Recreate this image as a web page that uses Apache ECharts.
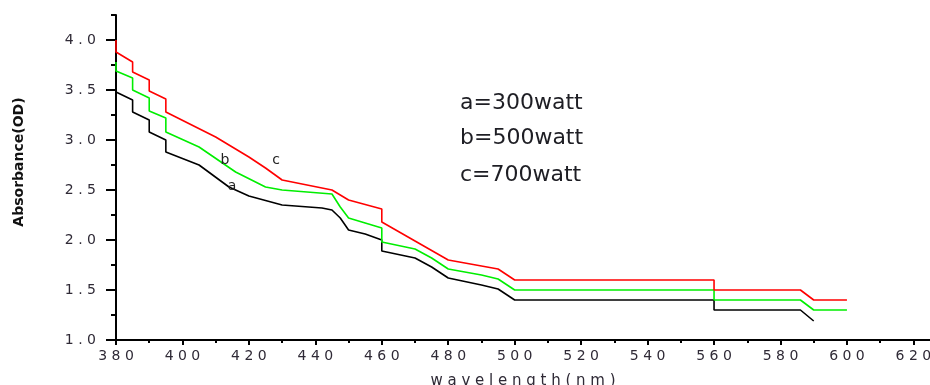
<!DOCTYPE html>
<html>
<head>
<meta charset="utf-8">
<script src="https://cdn.jsdelivr.net/npm/echarts@6/dist/echarts.min.js"></script>
<style>
  html, body { margin: 0; padding: 0; background: #fff; }
  #chart { width: 930px; height: 385px; }
</style>
</head>
<body>
<div id="chart"></div>
<script>
// wavelength (nm) / absorbance (OD)
const wlA = [380, 385, 385, 390, 390, 395, 395, 405, 414, 420, 430, 442, 445, 447.5, 450, 455, 460, 460, 470, 475, 480, 490, 495, 500, 560, 560, 586, 590];
const odA = [3.48, 3.40, 3.28, 3.20, 3.08, 3.00, 2.88, 2.75, 2.53, 2.44, 2.35, 2.32, 2.30, 2.22, 2.10, 2.06, 2.00, 1.89, 1.82, 1.73, 1.62, 1.55, 1.51, 1.40, 1.40, 1.30, 1.30, 1.19];

const wlB = [380, 380, 385, 385, 390, 390, 395, 395, 405, 416, 425, 430, 445, 447.5, 450, 455, 460, 460, 470, 475, 480, 490, 495, 500, 560, 560, 586, 590, 600];
const odB = [3.78, 3.69, 3.62, 3.50, 3.42, 3.29, 3.22, 3.08, 2.93, 2.68, 2.53, 2.50, 2.46, 2.33, 2.22, 2.17, 2.12, 1.98, 1.91, 1.82, 1.71, 1.65, 1.61, 1.50, 1.50, 1.40, 1.40, 1.30, 1.30];

const wlC = [380, 380, 385, 385, 390, 390, 395, 395, 410, 420, 425, 430, 437.5, 445, 450, 460, 460, 470, 480, 490, 495, 500, 560, 560, 586, 590, 600];
const odC = [4.00, 3.88, 3.78, 3.68, 3.60, 3.49, 3.41, 3.28, 3.03, 2.83, 2.72, 2.60, 2.55, 2.50, 2.40, 2.31, 2.18, 1.99, 1.80, 1.74, 1.71, 1.60, 1.60, 1.50, 1.50, 1.40, 1.40];

const xMajor = [380, 400, 420, 440, 460, 480, 500, 520, 540, 560, 580, 600, 620];
const xMinor = [390, 410, 430, 450, 470, 490, 510, 530, 550, 570, 590, 610];
const yMajor = [1.0, 1.5, 2.0, 2.5, 3.0, 3.5, 4.0];
const yMinor = [1.25, 1.75, 2.25, 2.75, 3.25, 3.75, 4.25];

const curveTags = [
  { name: "a", wl: 414.9, od: 2.54 },
  { name: "b", wl: 412.8, od: 2.80 },
  { name: "c", wl: 428.2, od: 2.80 },
];
const powerNotes = ["a=300watt", "b=500watt", "c=700watt"];

const pairs = (xs, ys) => xs.map((x, i) => [x, ys[i]]);
const spaced = (s, sep) => String(s).split("").join(sep);

const chart = echarts.init(document.getElementById("chart"));

const tickFont = { fontFamily: "DejaVu Sans", fontSize: 14, color: "#2f2a36" };

const tagPoint = (tag) => ({
  coord: [tag.wl, tag.od],
  symbol: "circle",
  symbolSize: 1,
  itemStyle: { color: "rgba(0,0,0,0)" },
  label: {
    show: true,
    position: "inside",
    formatter: tag.name,
    fontFamily: "DejaVu Sans",
    fontSize: 14,
    color: "#222",
  },
});

const lineSeries = (name, xs, ys, color, tag) => ({
  name: name,
  type: "line",
  xAxisIndex: 0,
  yAxisIndex: 0,
  data: pairs(xs, ys),
  showSymbol: false,
  symbol: "none",
  animation: false,
  lineStyle: { color: color, width: 1.6 },
  markPoint: { silent: true, animation: false, data: [tagPoint(tag)] },
});

const option = {
  animation: false,
  grid: {
    left: 116,
    right: 0,
    top: 15,
    bottom: 45,
    containLabel: false,
    outerBoundsMode: "none",
  },
  xAxis: [
    {
      type: "value",
      min: 380,
      max: 625,
      position: "bottom",
      splitLine: { show: false },
      axisLine: { onZero: false, lineStyle: { color: "#000", width: 2 } },
      axisTick: { customValues: xMajor, length: 5, lineStyle: { color: "#000", width: 2 } },
      axisLabel: {
        customValues: xMajor,
        margin: 9,
        formatter: (v) => spaced(v, " "),
        ...tickFont,
      },
      name: spaced("wavelength(nm)", " "),
      nameLocation: "middle",
      nameGap: 34,
      nameTextStyle: { fontFamily: "DejaVu Sans", fontSize: 15, color: "#2f2a36" },
    },
    {
      type: "value",
      min: 380,
      max: 625,
      position: "bottom",
      splitLine: { show: false },
      axisLine: { show: false, onZero: false },
      axisTick: { customValues: xMinor, length: 3, lineStyle: { color: "#000", width: 2 } },
      axisLabel: { show: false },
    },
  ],
  yAxis: [
    {
      type: "value",
      min: 1,
      max: 4.25,
      position: "left",
      splitLine: { show: false },
      axisLine: { onZero: false, lineStyle: { color: "#000", width: 2 } },
      axisTick: { customValues: yMajor, length: 10, lineStyle: { color: "#000", width: 2 } },
      axisLabel: {
        customValues: yMajor,
        margin: 20,
        formatter: (v) => spaced(v.toFixed(1), " "),
        ...tickFont,
      },
    },
    {
      type: "value",
      min: 1,
      max: 4.25,
      position: "left",
      splitLine: { show: false },
      axisLine: { show: false, onZero: false },
      axisTick: { customValues: yMinor, length: 5, lineStyle: { color: "#000", width: 2 } },
      axisLabel: { show: false },
    },
  ],
  graphic: [
    {
      type: "text",
      x: 19,
      y: 162,
      rotation: Math.PI / 2,
      style: {
        text: "Absorbance(OD)",
        fontFamily: "DejaVu Sans",
        fontSize: 14,
        fontWeight: "bold",
        fill: "#111",
        align: "center",
        verticalAlign: "middle",
      },
    },
    ...powerNotes.map((t, i) => ({
      type: "text",
      x: 460,
      y: [103, 138, 175][i],
      style: {
        text: t,
        fontFamily: "DejaVu Sans",
        fontSize: 22,
        fill: "#1e1e24",
        verticalAlign: "middle",
      },
    })),
  ],
  series: [
    lineSeries("a", wlA, odA, "#000000", curveTags[0]),
    lineSeries("b", wlB, odB, "#00ee00", curveTags[1]),
    lineSeries("c", wlC, odC, "#ff0000", curveTags[2]),
  ],
};

chart.setOption(option);
</script>
</body>
</html>
